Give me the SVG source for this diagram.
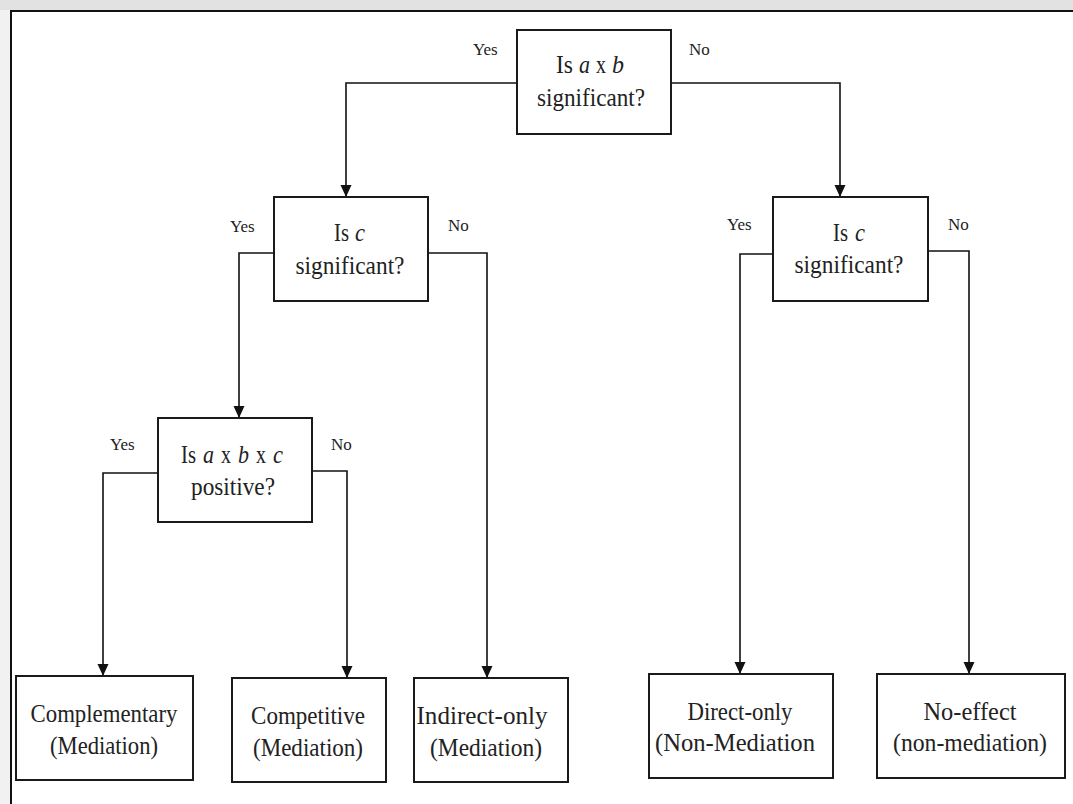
<svg xmlns="http://www.w3.org/2000/svg" width="1073" height="804" viewBox="0 0 1073 804">
<style>
.box{fill:#fff;stroke:#1a1a1a;stroke-width:2}
.t{font-family:"Liberation Serif","Times New Roman",serif;font-size:26px;fill:#222;text-anchor:middle}
.w{font-family:"Liberation Serif","Times New Roman",serif;font-size:26px;fill:#222}
.l{font-family:"Liberation Serif","Times New Roman",serif;font-size:17px;fill:#222}
.c{fill:none;stroke:#111;stroke-width:1.6}
.i{font-style:italic}
</style>
<defs>
<marker id="arr" markerUnits="userSpaceOnUse" markerWidth="12" markerHeight="12" refX="12" refY="6" orient="auto">
<path d="M0,0.5 L12,6 L0,11.5 z" fill="#111"/>
</marker>
</defs>
<rect x="0" y="0" width="1073" height="804" fill="#fff"/>
<rect x="0" y="0" width="1073" height="10" fill="#e2e2e2"/>
<rect x="0" y="10" width="10" height="794" fill="#f1f1f1"/>
<path d="M11,804 V11 H1073" fill="none" stroke="#111" stroke-width="2"/>

<g id="connectors">
<path class="c" d="M517,83 H346 V197" marker-end="url(#arr)"/>
<path class="c" d="M671,83 H840 V197" marker-end="url(#arr)"/>
<path class="c" d="M274,253 H239 V418" marker-end="url(#arr)"/>
<path class="c" d="M428,253 H487 V678" marker-end="url(#arr)"/>
<path class="c" d="M773,254 H740 V674" marker-end="url(#arr)"/>
<path class="c" d="M928,251 H969 V674" marker-end="url(#arr)"/>
<path class="c" d="M158,473 H103 V676" marker-end="url(#arr)"/>
<path class="c" d="M312,471 H347 V678" marker-end="url(#arr)"/>
<text class="l" x="473" y="55">Yes</text>
<text class="l" x="689" y="55">No</text>
<text class="l" x="230" y="232">Yes</text>
<text class="l" x="448" y="231">No</text>
<text class="l" x="727" y="230">Yes</text>
<text class="l" x="948" y="230">No</text>
<text class="l" x="110" y="450">Yes</text>
<text class="l" x="331" y="450">No</text>
</g>

<g id="q1">
<rect class="box" x="517" y="30" width="154" height="104"/>
<text class="w" x="556" y="73" textLength="17" lengthAdjust="spacingAndGlyphs">Is</text>
<text class="w i" x="579" y="73" textLength="11" lengthAdjust="spacingAndGlyphs">a</text>
<text class="w" x="596" y="73" textLength="10" lengthAdjust="spacingAndGlyphs">x</text>
<text class="w i" x="612" y="73" textLength="12" lengthAdjust="spacingAndGlyphs">b</text>
<text class="t" x="591" y="106" textLength="108" lengthAdjust="spacingAndGlyphs">significant?</text>
</g>

<g id="q2">
<rect class="box" x="274" y="197" width="154" height="104"/>
<text class="w" x="334" y="241" textLength="15" lengthAdjust="spacingAndGlyphs">Is</text>
<text class="w i" x="355" y="241" textLength="10" lengthAdjust="spacingAndGlyphs">c</text>
<text class="t" x="350" y="274" textLength="109" lengthAdjust="spacingAndGlyphs">significant?</text>
</g>

<g id="q3">
<rect class="box" x="773" y="197" width="155" height="104"/>
<text class="w" x="833" y="241" textLength="15" lengthAdjust="spacingAndGlyphs">Is</text>
<text class="w i" x="855" y="241" textLength="10" lengthAdjust="spacingAndGlyphs">c</text>
<text class="t" x="849" y="273" textLength="109" lengthAdjust="spacingAndGlyphs">significant?</text>
</g>

<g id="q4">
<rect class="box" x="158" y="418" width="154" height="104"/>
<text class="w" x="181" y="463" textLength="15" lengthAdjust="spacingAndGlyphs">Is</text>
<text class="w i" x="203" y="463" textLength="11" lengthAdjust="spacingAndGlyphs">a</text>
<text class="w" x="221" y="463" textLength="10" lengthAdjust="spacingAndGlyphs">x</text>
<text class="w i" x="238" y="463" textLength="11" lengthAdjust="spacingAndGlyphs">b</text>
<text class="w" x="256" y="463" textLength="10" lengthAdjust="spacingAndGlyphs">x</text>
<text class="w i" x="273" y="463" textLength="10" lengthAdjust="spacingAndGlyphs">c</text>
<text class="t" x="233" y="495" textLength="84" lengthAdjust="spacingAndGlyphs">positive?</text>
</g>

<g id="complementary">
<rect class="box" x="16" y="676" width="177" height="104"/>
<text class="t" x="104" y="722" textLength="147" lengthAdjust="spacingAndGlyphs">Complementary</text>
<text class="t" x="104" y="754" textLength="108" lengthAdjust="spacingAndGlyphs">(Mediation)</text>
</g>

<g id="competitive">
<rect class="box" x="232" y="678" width="154" height="104"/>
<text class="t" x="308" y="724" textLength="114" lengthAdjust="spacingAndGlyphs">Competitive</text>
<text class="t" x="308" y="756" textLength="110" lengthAdjust="spacingAndGlyphs">(Mediation)</text>
</g>

<g id="indirect-only">
<rect class="box" x="414" y="678" width="154" height="104"/>
<text class="t" x="482" y="724" textLength="131" lengthAdjust="spacingAndGlyphs">Indirect-only</text>
<text class="t" x="486" y="756" textLength="112" lengthAdjust="spacingAndGlyphs">(Mediation)</text>
</g>

<g id="direct-only">
<rect class="box" x="649" y="674" width="184" height="104"/>
<text class="t" x="740" y="720" textLength="105" lengthAdjust="spacingAndGlyphs">Direct-only</text>
<text class="t" x="735" y="751" textLength="160" lengthAdjust="spacingAndGlyphs">(Non-Mediation</text>
</g>

<g id="no-effect">
<rect class="box" x="877" y="674" width="188" height="104"/>
<text class="t" x="970" y="720" textLength="93" lengthAdjust="spacingAndGlyphs">No-effect</text>
<text class="t" x="970" y="751" textLength="154" lengthAdjust="spacingAndGlyphs">(non-mediation)</text>
</g>
</svg>
